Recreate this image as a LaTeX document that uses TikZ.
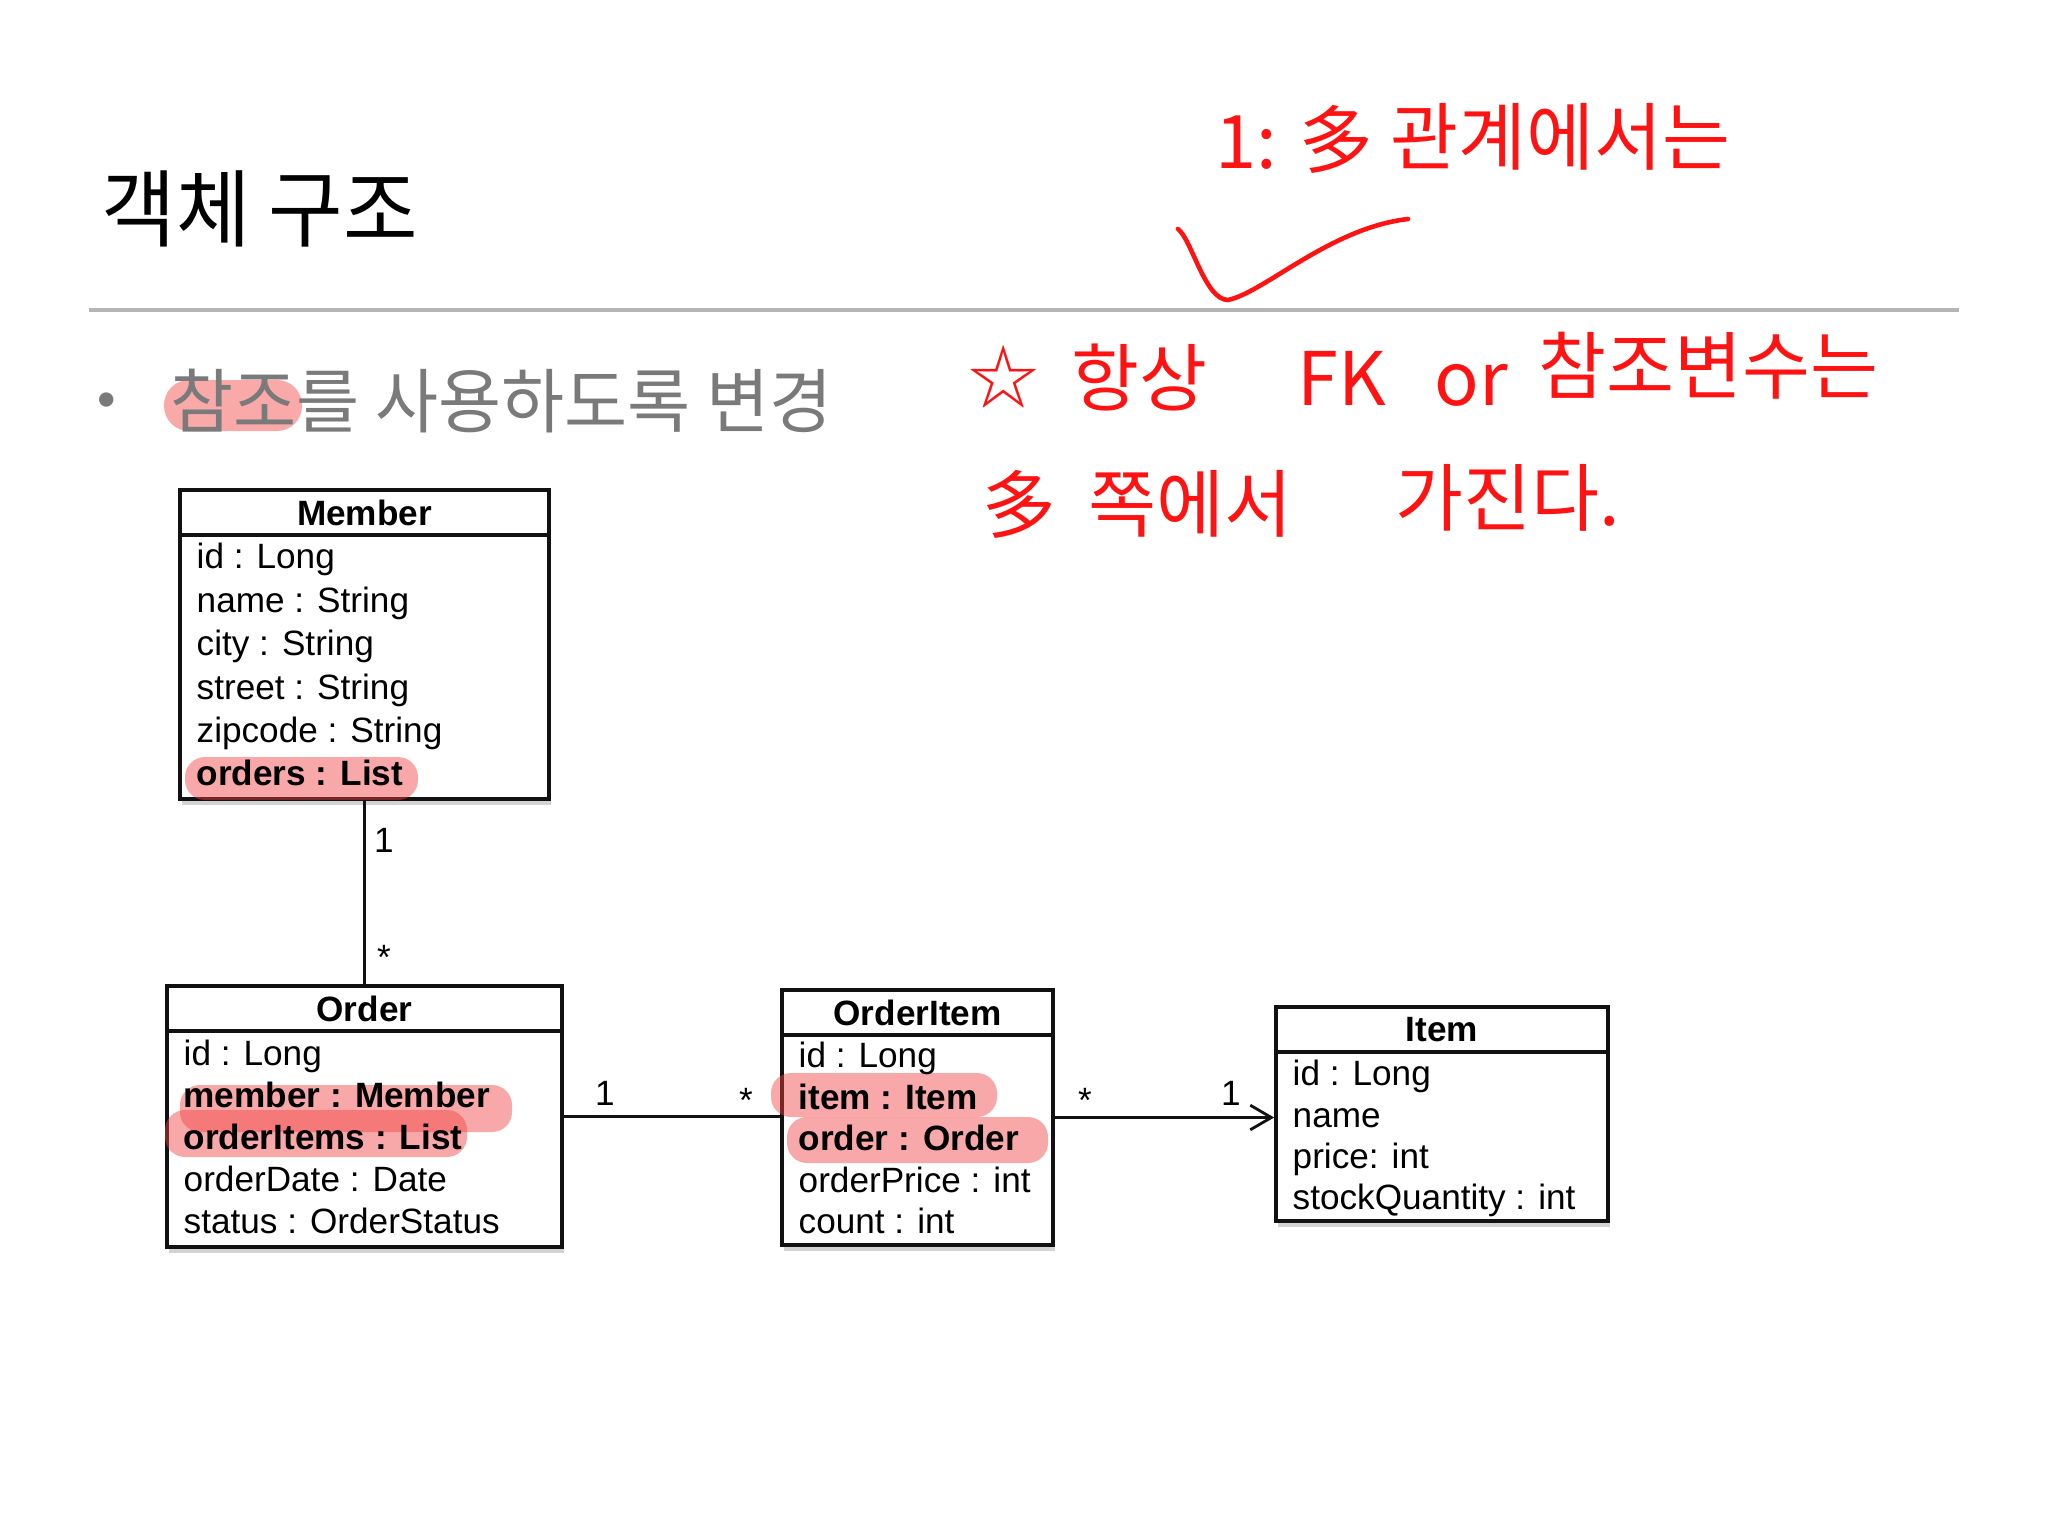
\documentclass[tikz,border=0pt]{standalone}
\usepackage{fontspec}
\usepackage{graphicx}
\setmainfont{Liberation Sans}
\newfontfamily\krfont{Noto Sans CJK KR}
\usetikzlibrary{arrows.meta,shadows}
\definecolor{umlink}{HTML}{111111}
\definecolor{subgray}{HTML}{7A7A7A}
\definecolor{rulegray}{HTML}{B5B5B5}
\definecolor{markred}{HTML}{F0403F}
\definecolor{notered}{HTML}{FF1212}

\begin{document}
\begin{tikzpicture}[x=0.01cm, y=-0.01cm, every node/.style={font=\fontsize{10}{12}\selectfont},
  classbox/.style={draw=umlink, line width=1pt, fill=white, inner sep=0pt,
    drop shadow={shadow xshift=0.6pt, shadow yshift=-1.6pt, opacity=0.35}},
  classhead/.style={draw=umlink, line width=1pt, inner sep=0pt, anchor=north,
    minimum height=0.45cm, font=\fontsize{10}{12}\selectfont\bfseries},
  attr/.style={anchor=west, inner sep=0pt, text height=7.5pt, text depth=2.5pt},
  mult/.style={inner sep=0pt, text height=7.5pt, text depth=2.5pt},
  assoc/.style={draw=umlink, line width=0.8pt},
  hilite/.style={fill=markred, fill opacity=0.45, rounded corners=0.2cm},
  note/.style={text=notered, anchor=west, inner sep=0pt, text height=18.5pt, text depth=2.5pt,
    font=\krfont\fontsize{21}{24}\selectfont}]

  \useasboundingbox (0,0) rectangle (2048,1536);

  % title and rule
  \node[anchor=west, inner sep=0pt, font=\krfont\fontsize{24}{28}\selectfont] (title) at (101,209)
    {\scalebox{0.96}[1]{객체 구조}};
  \draw[rulegray, line width=1.2pt] (89,310) -- (1959,310);

  \fill[hilite, rounded corners=0.25cm] (164,380) rectangle (302,431);
  \node[text=subgray, font=\fontsize{15}{18}\selectfont] (bullet) at (107,405) {•};
  \node[anchor=west, inner sep=0pt, text=subgray, font=\krfont\fontsize{20}{24}\selectfont] (subtitle) at (170,401)
    {\scalebox{0.975}[1]{참조를 사용하도록 변경}};

  % classes
  \node[classbox, minimum width=3.69cm, minimum height=3.09cm] (member) at (364.5,644.5) {};
  \node[classhead, minimum width=3.69cm] (member-head) at (member.north) {Member};
  \node[classbox, minimum width=3.95cm, minimum height=2.61cm] (order) at (364.5,1116.5) {};
  \node[classhead, minimum width=3.95cm] (order-head) at (order.north) {Order};
  \node[classbox, minimum width=2.71cm, minimum height=2.55cm] (orderitem) at (917.5,1117.5) {};
  \node[classhead, minimum width=2.71cm] (orderitem-head) at (orderitem.north) {OrderItem};
  \node[classbox, minimum width=3.32cm, minimum height=2.14cm] (item) at (1442,1114) {};
  \node[classhead, minimum width=3.32cm] (item-head) at (item.north) {Item};

  % marked fields
  \fill[hilite] (185,757) rectangle (418,800);
  \fill[hilite] (180,1085) rectangle (512,1132);
  \fill[hilite] (165,1110) rectangle (467,1157);
  \fill[hilite] (771,1073) rectangle (997,1117);
  \fill[hilite] (787,1117) rectangle (1048,1163);

  \foreach \txt [count=\i] in {id : Long, name : String, city : String, street : String,
      zipcode : String, \textbf{orders : List}}
    \node[attr] (member-\i) at (196,{560+43.4*(\i-1)}) {\txt};
  \foreach \txt [count=\i] in {id : Long, \textbf{member : Member}, \textbf{orderItems : List},
      orderDate : Date, status : OrderStatus}
    \node[attr] (order-\i) at (183,{1057+42*(\i-1)}) {\txt};
  \foreach \txt [count=\i] in {id : Long, \textbf{item : Item}, \textbf{order : Order},
      orderPrice : int, count : int}
    \node[attr] (orderitem-\i) at (798,{1059+41.5*(\i-1)}) {\txt};
  \foreach \txt [count=\i] in {id : Long, name, price: int, stockQuantity : int}
    \node[attr] (item-\i) at (1292,{1077+41.3*(\i-1)}) {\txt};

  % associations
  \draw[assoc] (member.south) -- (order.north);
  \draw[assoc] (order.east) -- (order.east -| orderitem.west);
  \draw[assoc, -{Straight Barb[length=6pt, width=7pt]}] (orderitem.east) -- (orderitem.east -| item.west);
  \node[mult] (m-one) at (384,844) {1};
  \node[mult] (m-many) at (384,961) {*};
  \node[mult] (o-one) at (605,1097) {1};
  \node[mult] (o-many) at (746,1104) {*};
  \node[mult] (i-many) at (1085,1104) {*};
  \node[mult] (i-one) at (1231,1097) {1};

  % handwritten notes
  \node[note] (n1a) at (1215,140) {1:};
  \node[note] (n1b) at (1299,139) {多};
  \node[note] (n1c) at (1390,136) {관계에서는};
  \draw[notered, line width=1.3pt, line cap=round]
    (1178,229) .. controls (1192,240) and (1205,300) .. (1228,300)
    .. controls (1265,292) and (1330,228) .. (1408,219);
  \node[note, font=\krfont\fontsize{20}{22}\selectfont] (n2a) at (968,375) {☆};
  \node[note] (n2b) at (1071,377) {항상};
  \node[note] (n2c) at (1297,377) {FK};
  \node[note] (n2d) at (1434,377) {or};
  \node[note] (n2e) at (1538,365) {참조변수는};
  \node[note] (n3a) at (982,504) {多};
  \node[note] (n3b) at (1088,503) {쪽에서};
  \node[note] (n3c) at (1395,497) {가진다.};

\end{tikzpicture}
\end{document}
